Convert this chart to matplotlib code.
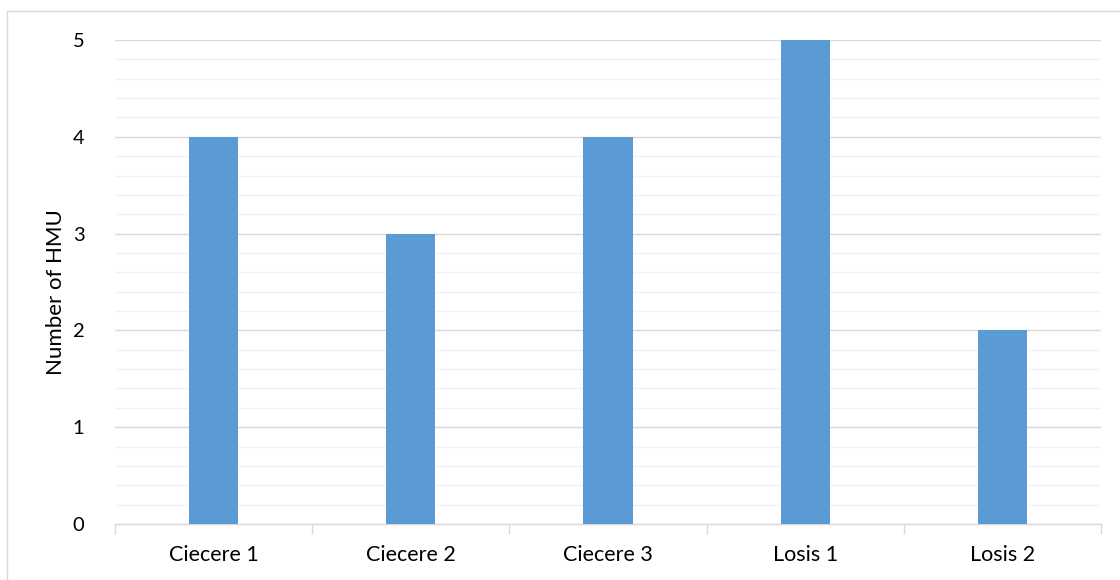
import matplotlib
matplotlib.use("Agg")
import matplotlib.pyplot as plt
from matplotlib.patches import Rectangle
from matplotlib.ticker import MultipleLocator, FixedLocator, NullFormatter

categories = ["Ciecere 1", "Ciecere 2", "Ciecere 3", "Losis 1", "Losis 2"]
hmu_counts = [4, 3, 4, 5, 2]

plt.rcParams["font.family"] = ["Lato", "DejaVu Sans"]

W, H = 1120, 580
fig = plt.figure(figsize=(W / 100, H / 100), dpi=100)
fig.patch.set_facecolor("white")

# plot area in pixels: x 115..1101, y 40..524
left, right, top, bottom = 115, 1101, 40, 524
ax = fig.add_axes([left / W, 1 - bottom / H, (right - left) / W, (bottom - top) / H])

x = list(range(len(categories)))
ax.bar(x, hmu_counts, width=0.25, color="#5b9bd5", zorder=3)

ax.set_xlim(-0.5, len(categories) - 0.5)
ax.set_ylim(0, 5)

ax.yaxis.set_major_locator(MultipleLocator(1))
ax.yaxis.set_minor_locator(MultipleLocator(0.2))
ax.grid(which="major", axis="y", color="#d9d9d9", linewidth=1.0, zorder=0)
ax.grid(which="minor", axis="y", color="#f2f2f2", linewidth=1.0, zorder=0)

ax.set_xticks(x)
ax.set_xticklabels(categories, fontsize=15.5, color="#000000")
ax.xaxis.set_minor_locator(FixedLocator([i - 0.5 for i in range(len(categories) + 1)]))
ax.xaxis.set_minor_formatter(NullFormatter())
ax.tick_params(axis="x", which="major", length=0, pad=15)
ax.tick_params(axis="x", which="minor", length=7, width=1, color="#d9d9d9")
ax.tick_params(axis="y", which="both", length=0, pad=22, labelsize=14.5)

for side in ["top", "right", "left"]:
    ax.spines[side].set_visible(False)
ax.spines["bottom"].set_color("#d9d9d9")
ax.spines["bottom"].set_linewidth(1.0)

fig.text(56 / W, 1 - 292 / H, "Number of HMU", rotation=90,
         ha="center", va="center", fontsize=16)

# chart frame, extending past the right and bottom edges
fig.patches.append(Rectangle((6.5 / W, -0.1), 1.2, (H - 10.5) / H + 0.1,
                             transform=fig.transFigure, fill=False,
                             edgecolor="#d9d9d9", linewidth=1.0))

fig.savefig("out.png", dpi=100)
